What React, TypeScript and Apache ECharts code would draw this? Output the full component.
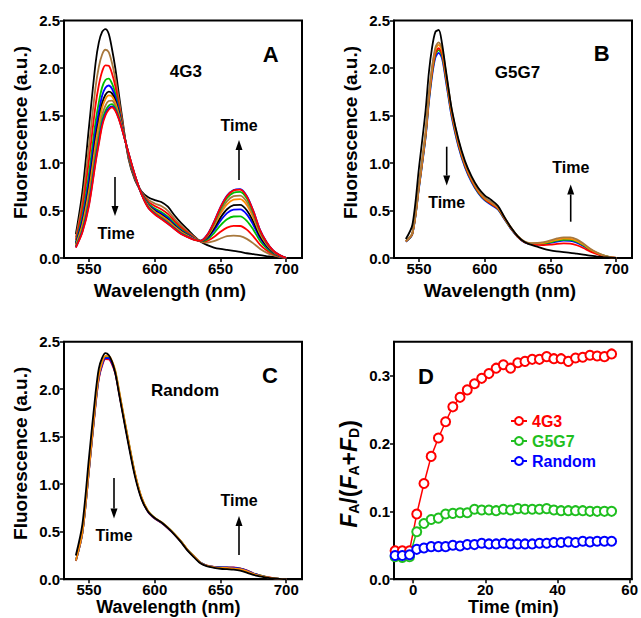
import React, { useEffect, useRef } from 'react';
import * as echarts from 'echarts';

const FONT = '"Liberation Sans", Arial, Helvetica, sans-serif';

// ---------- Panels A-C : emission spectra ----------
const WAVELENGTH = [540, 545, 550, 555, 557.5, 560, 562.5, 565, 567.5, 570, 572.5, 575, 580, 585, 590, 595, 600, 605, 610, 615, 620, 625, 630, 635, 640, 645, 650, 655, 660, 665, 670, 675, 680, 685, 690, 695, 700];
const WAVELENGTH_TICKS = [550, 600, 650, 700];
const FLUOR_TICKS = [0, 0.5, 1.0, 1.5, 2.0, 2.5];

// Panel A (4G3), in time order
const A0 = [0.25, 0.70, 1.38, 2.05, 2.27, 2.38, 2.41, 2.36, 2.20, 2.00, 1.75, 1.50, 1.05, 0.82, 0.70, 0.64, 0.61, 0.59, 0.54, 0.45, 0.37, 0.30, 0.23, 0.17, 0.135, 0.11, 0.095, 0.085, 0.075, 0.065, 0.05, 0.04, 0.03, 0.02, 0.012, 0.005, 0];
const A1 = [0.216, 0.597, 1.181, 1.798, 2.013, 2.142, 2.192, 2.168, 2.052, 1.892, 1.683, 1.466, 1.064, 0.832, 0.693, 0.614, 0.574, 0.547, 0.497, 0.415, 0.342, 0.281, 0.221, 0.173, 0.162, 0.177, 0.205, 0.229, 0.236, 0.23, 0.201, 0.154, 0.098, 0.057, 0.029, 0.012, 0];
const A2 = [0.191, 0.519, 1.031, 1.609, 1.821, 1.964, 2.028, 2.024, 1.942, 1.811, 1.632, 1.441, 1.075, 0.841, 0.687, 0.594, 0.547, 0.514, 0.464, 0.389, 0.321, 0.266, 0.214, 0.174, 0.180, 0.220, 0.276, 0.320, 0.338, 0.337, 0.299, 0.228, 0.141, 0.081, 0.039, 0.015, 0];
const A3 = [0.167, 0.446, 0.890, 1.430, 1.639, 1.796, 1.873, 1.888, 1.837, 1.734, 1.585, 1.417, 1.085, 0.850, 0.682, 0.575, 0.521, 0.484, 0.434, 0.364, 0.301, 0.253, 0.206, 0.175, 0.196, 0.260, 0.344, 0.408, 0.437, 0.438, 0.391, 0.298, 0.182, 0.105, 0.050, 0.019, 0];
const A4 = [0.155, 0.408, 0.816, 1.336, 1.542, 1.707, 1.791, 1.816, 1.782, 1.694, 1.560, 1.405, 1.091, 0.854, 0.680, 0.565, 0.508, 0.468, 0.418, 0.351, 0.290, 0.246, 0.203, 0.177, 0.209, 0.290, 0.392, 0.472, 0.509, 0.511, 0.459, 0.348, 0.212, 0.121, 0.057, 0.022, 0];
const A5 = [0.144, 0.373, 0.749, 1.252, 1.457, 1.628, 1.718, 1.752, 1.733, 1.658, 1.537, 1.394, 1.096, 0.858, 0.677, 0.556, 0.496, 0.453, 0.403, 0.340, 0.282, 0.240, 0.200, 0.178, 0.217, 0.310, 0.425, 0.513, 0.556, 0.560, 0.503, 0.382, 0.231, 0.132, 0.063, 0.024, 0];
const A6 = [0.137, 0.352, 0.708, 1.199, 1.403, 1.578, 1.673, 1.712, 1.702, 1.635, 1.523, 1.387, 1.099, 0.861, 0.676, 0.551, 0.488, 0.444, 0.394, 0.333, 0.276, 0.236, 0.199, 0.180, 0.228, 0.335, 0.465, 0.565, 0.614, 0.619, 0.557, 0.422, 0.256, 0.145, 0.069, 0.026, 0];
const A7 = [0.126, 0.319, 0.645, 1.121, 1.323, 1.504, 1.605, 1.652, 1.656, 1.602, 1.502, 1.376, 1.103, 0.864, 0.673, 0.543, 0.477, 0.431, 0.381, 0.322, 0.267, 0.229, 0.195, 0.181, 0.234, 0.350, 0.490, 0.598, 0.651, 0.657, 0.592, 0.449, 0.271, 0.154, 0.072, 0.027, 0];
const A8 = [0.118, 0.294, 0.596, 1.058, 1.259, 1.444, 1.550, 1.604, 1.619, 1.575, 1.485, 1.368, 1.107, 0.867, 0.672, 0.536, 0.468, 0.420, 0.370, 0.313, 0.260, 0.225, 0.193, 0.182, 0.240, 0.366, 0.517, 0.631, 0.688, 0.696, 0.628, 0.477, 0.288, 0.163, 0.076, 0.029, 0];
const A9 = [0.113, 0.279, 0.567, 1.021, 1.221, 1.410, 1.518, 1.576, 1.597, 1.559, 1.476, 1.363, 1.109, 0.869, 0.671, 0.532, 0.463, 0.414, 0.364, 0.308, 0.255, 0.222, 0.192, 0.182, 0.246, 0.378, 0.536, 0.657, 0.716, 0.725, 0.654, 0.496, 0.299, 0.169, 0.079, 0.030, 0];
const A10 = [0.11, 0.27, 0.55, 1.00, 1.20, 1.39, 1.50, 1.56, 1.585, 1.55, 1.47, 1.36, 1.11, 0.87, 0.67, 0.53, 0.46, 0.41, 0.36, 0.305, 0.253, 0.22, 0.19, 0.181, 0.244, 0.375, 0.532, 0.652, 0.712, 0.72, 0.649, 0.493, 0.297, 0.168, 0.079, 0.03, 0];
const A_CURVES = [A0, A1, A2, A3, A4, A5, A6, A7, A8, A9, A10];
const A_COLORS = ['#000000', '#A8783C', '#FF0000', '#00C000', '#0000FF', '#000000', '#FF8C00', '#A8783C', '#00C000', '#0000FF', '#FF0000'];

// Panel B (G5G7)
const B_BLUE = [0.171, 0.252, 0.738, 1.263, 1.634, 1.921, 2.110, 2.160, 2.102, 1.904, 1.685, 1.476, 1.174, 0.953, 0.799, 0.684, 0.606, 0.559, 0.511, 0.408, 0.306, 0.222, 0.166, 0.147, 0.145, 0.147, 0.159, 0.173, 0.182, 0.180, 0.161, 0.126, 0.083, 0.050, 0.026, 0.009, 0];
const B_GREEN = [0.173, 0.255, 0.748, 1.280, 1.656, 1.946, 2.138, 2.189, 2.130, 1.930, 1.707, 1.496, 1.189, 0.966, 0.810, 0.693, 0.614, 0.566, 0.518, 0.413, 0.310, 0.224, 0.169, 0.149, 0.148, 0.152, 0.166, 0.183, 0.191, 0.191, 0.171, 0.134, 0.088, 0.052, 0.027, 0.010, 0];
const B_RED = [0.175, 0.258, 0.754, 1.291, 1.671, 1.963, 2.156, 2.208, 2.149, 1.947, 1.722, 1.509, 1.200, 0.974, 0.817, 0.699, 0.619, 0.571, 0.523, 0.417, 0.313, 0.226, 0.169, 0.145, 0.139, 0.135, 0.140, 0.149, 0.154, 0.152, 0.134, 0.105, 0.070, 0.043, 0.022, 0.008, 0];
const B_ORANGE = [0.178, 0.262, 0.767, 1.312, 1.698, 1.995, 2.192, 2.244, 2.184, 1.978, 1.750, 1.533, 1.219, 0.990, 0.830, 0.711, 0.629, 0.581, 0.531, 0.424, 0.318, 0.231, 0.173, 0.154, 0.154, 0.160, 0.175, 0.192, 0.203, 0.202, 0.181, 0.142, 0.093, 0.056, 0.028, 0.010, 0];
const B_BROWN = [0.180, 0.265, 0.776, 1.327, 1.718, 2.019, 2.217, 2.270, 2.210, 2.002, 1.771, 1.551, 1.234, 1.002, 0.840, 0.719, 0.637, 0.587, 0.537, 0.429, 0.322, 0.234, 0.176, 0.157, 0.158, 0.167, 0.185, 0.206, 0.218, 0.218, 0.196, 0.153, 0.101, 0.060, 0.030, 0.011, 0];
const B_BLACK = [0.20, 0.35, 0.95, 1.55, 1.95, 2.22, 2.38, 2.40, 2.26, 2.02, 1.78, 1.56, 1.25, 1.02, 0.86, 0.74, 0.66, 0.61, 0.55, 0.43, 0.32, 0.23, 0.17, 0.14, 0.12, 0.095, 0.08, 0.07, 0.062, 0.055, 0.045, 0.035, 0.025, 0.017, 0.01, 0.004, 0];
const B_CURVES = [B_BLUE, B_GREEN, B_RED, B_ORANGE, B_BROWN, B_BLACK];
const B_COLORS = ['#0000FF', '#00C000', '#FF0000', '#FF8C00', '#A8783C', '#000000'];

// Panel C (Random)
const C_RED = [0.192, 0.486, 1.141, 1.833, 2.110, 2.246, 2.316, 2.315, 2.262, 2.165, 1.989, 1.800, 1.440, 1.098, 0.848, 0.708, 0.638, 0.593, 0.536, 0.470, 0.394, 0.306, 0.236, 0.171, 0.142, 0.130, 0.125, 0.125, 0.123, 0.114, 0.092, 0.062, 0.040, 0.024, 0.012, 0.004, 0];
const C_GREEN = [0.194, 0.491, 1.152, 1.852, 2.132, 2.269, 2.339, 2.338, 2.285, 2.187, 2.009, 1.818, 1.455, 1.109, 0.857, 0.715, 0.644, 0.599, 0.542, 0.475, 0.398, 0.308, 0.238, 0.172, 0.141, 0.129, 0.123, 0.122, 0.119, 0.110, 0.088, 0.059, 0.039, 0.023, 0.011, 0.004, 0];
const C_BLUE = [0.193, 0.488, 1.147, 1.842, 2.121, 2.258, 2.328, 2.327, 2.274, 2.176, 1.999, 1.809, 1.447, 1.103, 0.853, 0.711, 0.641, 0.596, 0.539, 0.472, 0.396, 0.307, 0.237, 0.172, 0.141, 0.130, 0.124, 0.123, 0.121, 0.111, 0.090, 0.060, 0.039, 0.023, 0.011, 0.004, 0];
const C_ORANGE = [0.195, 0.493, 1.158, 1.861, 2.142, 2.281, 2.351, 2.350, 2.297, 2.198, 2.020, 1.828, 1.462, 1.115, 0.861, 0.719, 0.647, 0.602, 0.545, 0.477, 0.400, 0.310, 0.240, 0.172, 0.141, 0.128, 0.120, 0.118, 0.115, 0.105, 0.084, 0.056, 0.037, 0.021, 0.011, 0.004, 0];
const C_BLACK = [0.25, 0.58, 1.28, 1.96, 2.22, 2.33, 2.38, 2.36, 2.29, 2.17, 1.98, 1.79, 1.42, 1.08, 0.84, 0.71, 0.645, 0.60, 0.54, 0.47, 0.39, 0.30, 0.23, 0.165, 0.135, 0.12, 0.11, 0.105, 0.10, 0.09, 0.07, 0.045, 0.03, 0.017, 0.008, 0.003, 0];
const C_CURVES = [C_RED, C_GREEN, C_BLUE, C_ORANGE, C_BLACK];
const C_COLORS = ['#FF0000', '#00C000', '#0000FF', '#FF8C00', '#000000'];

// ---------- Panel D : FRET ratio vs time ----------
const TIME = [-5, -3, -1, 1, 3, 5, 7, 9, 11, 13, 15, 17, 19, 21, 23, 25, 27, 29, 31, 33, 35, 37, 39, 41, 43, 45, 47, 49, 51, 53, 55];
const TIME_TICKS = [0, 20, 40, 60];
const RATIO_TICKS = [0, 0.1, 0.2, 0.3];
const RATIO_4G3 = [0.042, 0.042, 0.042, 0.096, 0.141, 0.181, 0.208, 0.232, 0.254, 0.268, 0.279, 0.288, 0.296, 0.303, 0.311, 0.316, 0.311, 0.319, 0.321, 0.324, 0.324, 0.328, 0.325, 0.325, 0.321, 0.326, 0.327, 0.330, 0.329, 0.328, 0.332];
const RATIO_G5G7 = [0.033, 0.032, 0.033, 0.070, 0.082, 0.088, 0.090, 0.096, 0.097, 0.098, 0.098, 0.103, 0.102, 0.102, 0.101, 0.103, 0.102, 0.104, 0.103, 0.103, 0.103, 0.104, 0.102, 0.101, 0.101, 0.101, 0.101, 0.100, 0.100, 0.100, 0.100];
const RATIO_RANDOM = [0.035, 0.035, 0.036, 0.044, 0.046, 0.048, 0.048, 0.048, 0.050, 0.049, 0.051, 0.051, 0.053, 0.052, 0.052, 0.053, 0.052, 0.052, 0.052, 0.052, 0.053, 0.053, 0.054, 0.054, 0.055, 0.054, 0.056, 0.055, 0.056, 0.056, 0.056];
const D_SERIES = [
  { name: '4G3', values: RATIO_4G3, color: '#FF0000' },
  { name: 'G5G7', values: RATIO_G5G7, color: '#1FBF1F' },
  { name: 'Random', values: RATIO_RANDOM, color: '#0000FF' },
];

const GRIDS = [
  { left: 64, top: 20.5, width: 238, height: 237.5 },
  { left: 394, top: 20.5, width: 238, height: 237.5 },
  { left: 64, top: 341.7, width: 238, height: 237.5 },
  { left: 394, top: 341.7, width: 238, height: 237.5 },
];

function axisCommon() {
  return {
    axisLine: { show: true, onZero: false, lineStyle: { color: '#000', width: 2 } },
    axisTick: { show: true, inside: false, length: 4, lineStyle: { color: '#000', width: 1.5 } },
    splitLine: { show: false },
  };
}

function labelStyle(extra: any) {
  return { color: '#000', fontSize: 15, fontWeight: 'bold', fontFamily: FONT, ...extra };
}

function spectrumSeries(values: number[], color: string, idx: number, name: string) {
  return {
    type: 'line',
    name,
    xAxisIndex: idx,
    yAxisIndex: idx,
    data: WAVELENGTH.map((w, i) => [w, values[i]]),
    symbol: 'none',
    showSymbol: false,
    smooth: 0.3,
    silent: true,
    lineStyle: { color, width: 1.8 },
    itemStyle: { color },
  };
}

function txt(text: string, x: number, y: number, size: number, extra: any = {}) {
  return {
    type: 'text',
    x,
    y,
    silent: true,
    ...extra,
    style: {
      text,
      fill: '#000',
      fontSize: size,
      fontWeight: 'bold',
      fontFamily: FONT,
      align: 'center',
      verticalAlign: 'middle',
      textAlign: 'center',
      textVerticalAlign: 'middle',
      ...(extra.style || {}),
    },
  };
}

function arrow(x: number, from: number, tip: number) {
  const dir = tip > from ? 1 : -1;
  const base = tip - dir * 10;
  return [
    { type: 'line', silent: true, shape: { x1: x, y1: from, x2: x, y2: base }, style: { stroke: '#000', lineWidth: 1.6 } },
    { type: 'polygon', silent: true, shape: { points: [[x - 3.5, base], [x + 3.5, base], [x, tip]] }, style: { fill: '#000' } },
  ];
}

export default function App() {
  const ref = useRef<HTMLDivElement>(null);

  useEffect(() => {
    if (!ref.current) return;
    const chart = echarts.init(ref.current, null, { renderer: 'svg' });

    const xAxes: any[] = [];
    const yAxes: any[] = [];
    for (let i = 0; i < 3; i++) {
      xAxes.push({
        type: 'value', gridIndex: i, min: 531, max: 712, ...axisCommon(),
        axisTick: { ...axisCommon().axisTick, customValues: WAVELENGTH_TICKS },
        axisLabel: labelStyle({ customValues: WAVELENGTH_TICKS, margin: 3, formatter: (v: number) => String(v) }),
      });
      yAxes.push({
        type: 'value', gridIndex: i, min: 0, max: 2.5, interval: 0.5, ...axisCommon(),
        axisTick: { ...axisCommon().axisTick, customValues: FLUOR_TICKS },
        axisLabel: labelStyle({ customValues: FLUOR_TICKS, margin: 4, formatter: (v: number) => v.toFixed(1) }),
      });
    }
    xAxes.push({
      type: 'value', gridIndex: 3, min: -5.3, max: 60.6, ...axisCommon(),
      axisTick: { ...axisCommon().axisTick, customValues: TIME_TICKS },
      axisLabel: labelStyle({ customValues: TIME_TICKS, margin: 3, formatter: (v: number) => String(v) }),
    });
    yAxes.push({
      type: 'value', gridIndex: 3, min: 0, max: 0.35, ...axisCommon(),
      axisTick: { ...axisCommon().axisTick, customValues: RATIO_TICKS },
      axisLabel: labelStyle({ customValues: RATIO_TICKS, margin: 4, formatter: (v: number) => v.toFixed(1) }),
    });

    const series: any[] = [];
    A_CURVES.forEach((c, i) => series.push(spectrumSeries(c, A_COLORS[i], 0, 'A' + i)));
    B_CURVES.forEach((c, i) => series.push(spectrumSeries(c, B_COLORS[i], 1, 'B' + i)));
    C_CURVES.forEach((c, i) => series.push(spectrumSeries(c, C_COLORS[i], 2, 'C' + i)));
    D_SERIES.forEach((s) => series.push({
      type: 'line',
      name: s.name,
      xAxisIndex: 3,
      yAxisIndex: 3,
      data: TIME.map((t, i) => [t, s.values[i]]),
      symbol: 'emptyCircle',
      symbolSize: 9,
      showSymbol: true,
      silent: true,
      lineStyle: { color: s.color, width: 1.5 },
      itemStyle: { color: s.color, borderColor: s.color, borderWidth: 1.5 },
    }));

    const yTitleD = {
      type: 'text', x: 349, y: 474, rotation: Math.PI / 2, silent: true,
      style: {
        text: '{i|F}{s|A}{n|/(}{i|F}{s|A}{n|+}{i|F}{s|D}{n|)}',
        align: 'center', verticalAlign: 'middle', textAlign: 'center', textVerticalAlign: 'middle',
        fill: '#000',
        rich: {
          i: { fontSize: 23, fontWeight: 'bold', fontStyle: 'italic', fontFamily: FONT, fill: '#000' },
          n: { fontSize: 23, fontWeight: 'bold', fontFamily: FONT, fill: '#000' },
          s: { fontSize: 14, fontWeight: 'bold', fontFamily: FONT, verticalAlign: 'bottom', fill: '#000' },
        },
      },
    };

    const graphic: any[] = [
      txt('A', 270.7, 54, 22), txt('B', 601.7, 53.3, 22), txt('C', 270, 375, 22), txt('D', 426, 376.7, 22),
      txt('4G3', 185.8, 71.7, 17), txt('G5G7', 517.5, 72, 17), txt('Random', 185, 390, 17),
      txt('Time', 116, 233, 16), txt('Time', 239, 125, 16),
      txt('Time', 446.7, 202.5, 16), txt('Time', 570.8, 167.5, 16),
      txt('Time', 114, 535.7, 16), txt('Time', 239, 500, 16),
      ...arrow(115, 177, 216), ...arrow(239, 180, 140),
      ...arrow(446.7, 146.7, 185.5), ...arrow(570.7, 221.7, 184.5),
      ...arrow(114, 478, 518.5), ...arrow(239, 555, 516),
      txt('Fluorescence (a.u.)', 20, 132.5, 19, { rotation: Math.PI / 2 }),
      txt('Fluorescence (a.u.)', 350, 132.5, 19, { rotation: Math.PI / 2 }),
      txt('Fluorescence (a.u.)', 20, 453.3, 19, { rotation: Math.PI / 2 }),
      yTitleD,
      txt('Wavelength (nm)', 170, 290, 19), txt('Wavelength (nm)', 500, 290, 19),
      txt('Wavelength (nm)', 168.3, 607, 18), txt('Time (min)', 513.3, 607, 18),
    ];

    chart.setOption({
      animation: false,
      backgroundColor: '#ffffff',
      grid: GRIDS.map((g) => ({ ...g, show: true, borderColor: '#000', borderWidth: 2, backgroundColor: 'transparent', containLabel: false })),
      xAxis: xAxes,
      yAxis: yAxes,
      legend: {
        data: D_SERIES.map((s) => ({ name: s.name, textStyle: { color: s.color } })),
        orient: 'vertical',
        left: 505,
        top: 408,
        itemWidth: 16,
        itemHeight: 10,
        itemGap: 4,
        selectedMode: false,
        textStyle: { fontSize: 16, fontWeight: 'bold', fontFamily: FONT },
      },
      series,
      graphic,
    });

    return () => chart.dispose();
  }, []);

  return <div ref={ref} style={{ position: 'absolute', left: 0, top: 0, width: 641, height: 618 }} />;
}
